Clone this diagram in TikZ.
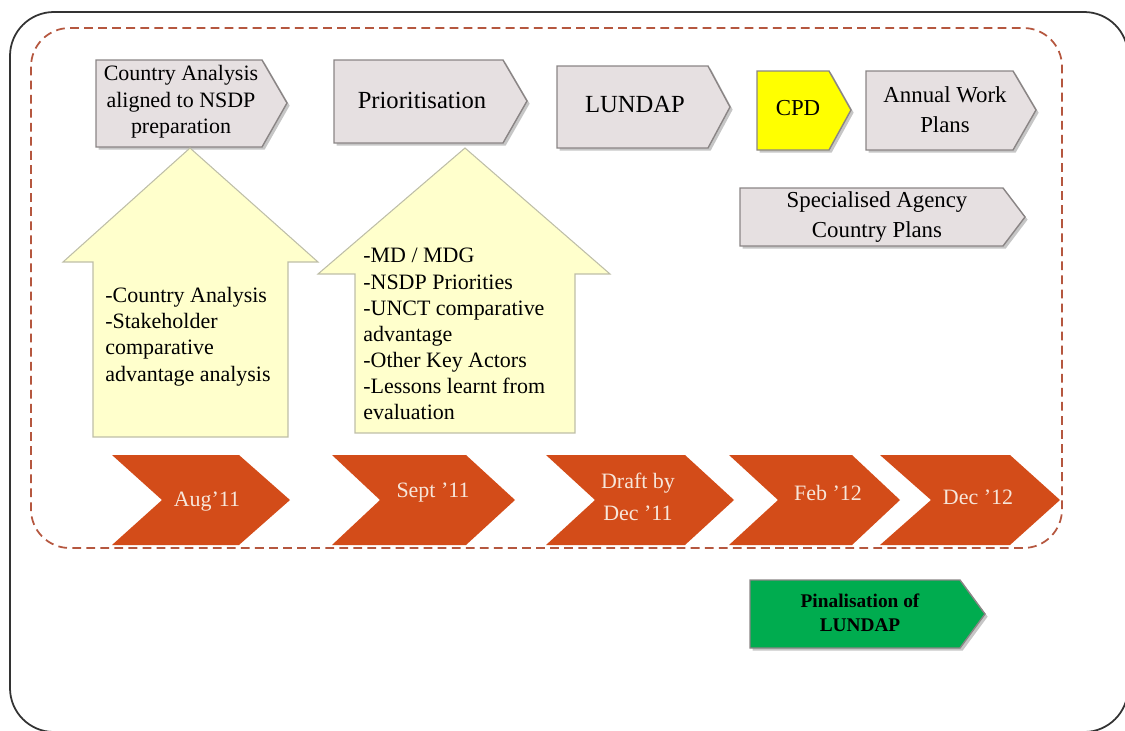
\documentclass[tikz,border=0pt]{standalone}
\usepackage{fontspec}
\setmainfont{Liberation Serif}
\usetikzlibrary{shadows}
\definecolor{boxgray}{HTML}{E6E0E1}
\definecolor{boxline}{HTML}{8A8585}
\definecolor{chev}{HTML}{D34C19}
\definecolor{dashc}{HTML}{B5573F}
\definecolor{argfill}{HTML}{FFFFCC}
\definecolor{argline}{HTML}{BEBEA8}
\definecolor{greenbox}{HTML}{00AC4F}
\definecolor{cpdy}{HTML}{FFFF00}
\definecolor{chevtext}{HTML}{F7E6DA}
\begin{document}
\begin{tikzpicture}[x=0.02cm,y=-0.02cm,
  plate/.style={fill=boxgray, draw=boxline, line width=0.8pt, drop shadow={shadow xshift=1.5pt, shadow yshift=-1.5pt, opacity=0.45}},
  upfill/.style={fill=argfill, draw=argline, line width=0.6pt},
  chevfill/.style={fill=chev},
  lbl/.style={font=\fontsize{12.5}{15}\selectfont, align=center, inner sep=0pt},
  biglbl/.style={font=\fontsize{14}{16}\selectfont, align=center, inner sep=0pt},
  midlbl/.style={font=\fontsize{13}{17}\selectfont, align=center, inner sep=0pt},
  listlbl/.style={font=\fontsize{12.5}{14.9}\selectfont, align=left, inner sep=0pt, anchor=north west},
  chevlbl/.style={font=\fontsize{12.5}{18}\selectfont, align=center, inner sep=0pt, text=chevtext},
  greenlbl/.style={font=\bfseries\fontsize{11}{13.6}\selectfont, align=center, inner sep=0pt}]
\useasboundingbox (0,0) rectangle (1125,730);
% outer frame
\draw[line width=1pt, black!80, rounded corners=25pt] (10,12) rectangle (1128,732);
% dashed frame
\draw[dashc, line width=1pt, dash pattern=on 5pt off 3pt, rounded corners=22pt] (31,28) rectangle (1062,548);
% top process boxes
\path[plate] (96,60) -- (262,60) -- (287,103) -- (262,147) -- (96,147) -- cycle;
\node[lbl] (ca) at (181,102) {Country Analysis\\aligned to NSDP\\preparation};
\path[plate] (334,60) -- (503,60) -- (527,101) -- (503,143) -- (334,143) -- cycle;
\node[biglbl] (pr) at (422,100) {Prioritisation};
\path[plate] (557,66) -- (708,66) -- (730,107) -- (708,148) -- (557,148) -- cycle;
\node[biglbl] (lu) at (635,104) {LUNDAP};
\path[plate, fill=cpdy] (757,71) -- (829,71) -- (851,110) -- (829,150) -- (757,150) -- cycle;
\node[midlbl] (cpd) at (798,108) {CPD};
\path[plate] (866,71) -- (1013,71) -- (1036,110) -- (1013,150) -- (866,150) -- cycle;
\node[midlbl] (awp) at (945,110) {Annual Work\\Plans};
\path[plate] (740,188) -- (1003,188) -- (1025,217) -- (1003,246) -- (740,246) -- cycle;
\node[midlbl] (sa) at (877,217) {Specialised Agency\\Country Plans};
% up arrows
\path[upfill] (190,148) -- (318,262) -- (288,262) -- (288,437) -- (93,437) -- (93,262) -- (63,262) -- cycle;
\node[listlbl] (l1) at (105,287) {-Country Analysis\\-Stakeholder\\comparative\\advantage analysis};
\path[upfill] (465,148) -- (610,274) -- (575,274) -- (575,433) -- (355,433) -- (355,274) -- (318,274) -- cycle;
\node[listlbl] (l2) at (363,248) {-MD / MDG\\-NSDP Priorities\\-UNCT comparative\\advantage\\-Other Key Actors\\-Lessons learnt from\\evaluation};
% chevrons
\path[chevfill] (112,455) -- (239,455) -- (290,500) -- (239,545) -- (112,545) -- (162,500) -- cycle;
\node[chevlbl] (c1) at (207,502) {Aug'11};
\path[chevfill] (332,455) -- (466,455) -- (515,500) -- (466,545) -- (332,545) -- (380,500) -- cycle;
\node[chevlbl] (c2) at (433,493) {Sept '11};
\path[chevfill] (546,455) -- (685,455) -- (734,500) -- (685,545) -- (546,545) -- (595,500) -- cycle;
\node[chevlbl] (c3) at (638,497) {Draft by\\Dec '11};
\path[chevfill] (729,455) -- (852,455) -- (900,500) -- (852,545) -- (729,545) -- (778,500) -- cycle;
\node[chevlbl] (c4) at (828,493) {Feb '12};
\path[chevfill] (880,455) -- (1010,455) -- (1060,500) -- (1010,545) -- (880,545) -- (931,500) -- cycle;
\node[chevlbl] (c5) at (978,497) {Dec '12};
% green box
\path[plate, fill=greenbox] (750,580) -- (960,580) -- (985,614) -- (960,648) -- (750,648) -- cycle;
\node[greenlbl] (fin) at (860,613) {Pinalisation of\\LUNDAP};
\end{tikzpicture}
\end{document}
